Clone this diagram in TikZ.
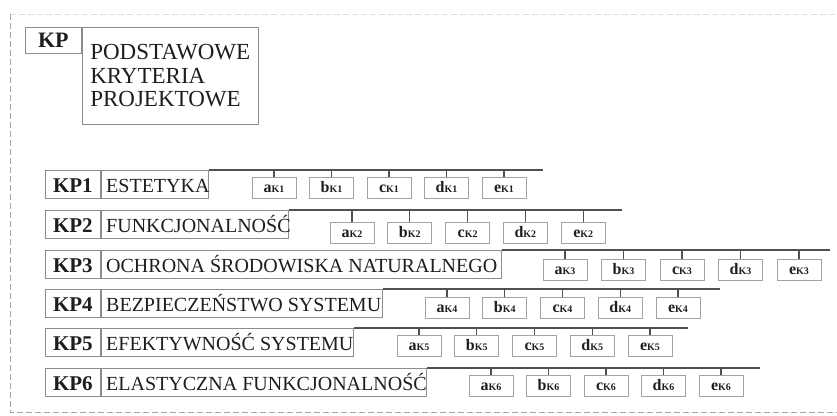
\documentclass[tikz,border=0pt]{standalone}
\usepackage{fontspec}
\setmainfont{Liberation Serif}
\definecolor{boxgray}{HTML}{8C8C8C}
\definecolor{linegray}{HTML}{505050}
\definecolor{ink}{HTML}{1E1E1E}
\newcommand\subtxt[2]{{\fontsize{16}{16}\selectfont\bfseries #1}{\fontsize{10}{10}\selectfont\bfseries #2}}
\newcommand\kprow[8]{%
  \node[kpbox] (k#1) at (45,#2) {KP#1};
  \node[txtbox] (t#1) at (k#1.north east) {\makebox[\dimexpr#3pt-110pt\relax][l]{#8}};
  \coordinate (L#1) at (#6,#2);
  \draw[bus] (t#1.north east) -- (L#1);
  \foreach \l [count=\i from 0] in {a,b,c,d,e} {
    \node[subbox] (\l#1) at ({#4+22+\i*#5},{#2+#7}) {\subtxt{\l}{K#1}};
    \draw[bus] (\l#1.north) -- (\l#1.north |- L#1);
  }%
}
\begin{document}
\begin{tikzpicture}[x=1pt,y=-1pt,
  kpbox/.style={draw=boxgray, line width=0.8pt, anchor=north west, minimum width=55pt,
    minimum height=28pt, inner sep=0pt, text height=17pt, text depth=1pt, text=ink,
    font=\fontsize{21}{21}\selectfont\bfseries},
  txtbox/.style={draw=boxgray, line width=0.8pt, anchor=north west, inner xsep=5pt,
    inner ysep=5pt, text height=17pt, text depth=1pt, text=ink,
    font=\fontsize{20}{20}\selectfont},
  subbox/.style={draw=boxgray!80, line width=0.8pt, anchor=north, minimum width=44pt,
    minimum height=21pt, inner sep=0pt, text height=12pt, text depth=3pt, text=ink},
  bus/.style={draw=linegray, line width=1.2pt},
  frame/.style={dash pattern=on 6pt off 3pt, line width=0.8pt}]
\useasboundingbox (0,0) rectangle (837,415);
% dashed frame
\draw[frame, draw=gray!25] (10,14) -- (837,14);
\draw[frame, draw=gray!70] (10,14) -- (10,412) -- (837,412);
% title
\node[kpbox, minimum width=56pt, minimum height=26pt, text height=16pt, text depth=1pt,
  font=\fontsize{22}{22}\selectfont\bfseries] (kp) at (25,27) {KP};
\node[draw=boxgray, line width=0.8pt, anchor=north west, minimum width=176pt,
  minimum height=97pt, inner sep=0pt, align=left, text=ink,
  font=\fontsize{23}{23.5}\selectfont] (title) at (kp.north east)
  {PODSTAWOWE\\KRYTERIA\\PROJEKTOWE};
% rows
\kprow{1}{170}{207}{252}{57.5}{543}{7}{ESTETYKA}
\kprow{2}{210}{287}{330}{57.8}{622}{12}{FUNKCJONALNOŚĆ}
\kprow{3}{250}{500}{543}{58.5}{830}{9}{OCHRONA ŚRODOWISKA NATURALNEGO}
\kprow{4}{289}{381}{425}{57.75}{720}{8}{BEZPIECZEŃSTWO SYSTEMU}
\kprow{5}{328}{352}{397}{57.75}{688}{7}{EFEKTYWNOŚĆ SYSTEMU}
\kprow{6}{368}{425}{469}{57.5}{760}{7}{ELASTYCZNA FUNKCJONALNOŚĆ}
\end{tikzpicture}
\end{document}
